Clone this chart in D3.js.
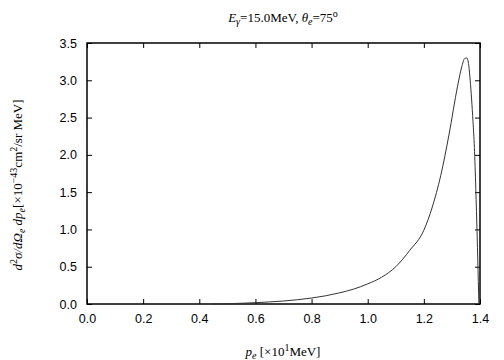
<!DOCTYPE html>
<html><head><meta charset="utf-8">
<script src="https://cdn.jsdelivr.net/npm/d3@7"></script>
<style>body{margin:0;background:#fff}svg{display:block}</style>
</head><body>
<script>
const pe = [0.45,0.5,0.55,0.6,0.65,0.7,0.75,0.8,0.85,0.9,0.95,1.0,1.05,1.1,1.15,1.2,1.23,1.26,1.29,1.32,1.335,1.345,1.353,1.36,1.365,1.37,1.375,1.38,1.385,1.39,1.394,1.396];
const xs = [0,0.004,0.01,0.018,0.028,0.04,0.057,0.08,0.11,0.15,0.2,0.27,0.36,0.5,0.72,0.99,1.3,1.72,2.28,2.92,3.18,3.29,3.3,3.2,3.0,2.75,2.45,2.1,1.55,0.9,0.3,0];
const xTicks = [0,0.2,0.4,0.6,0.8,1.0,1.2,1.4];
const yTicks = [0,0.5,1.0,1.5,2.0,2.5,3.0,3.5];

const W=504,H=360, L=87,R=480,T=43,B=304;
const svg=d3.select("body").append("svg").attr("width",W).attr("height",H);
const x=d3.scaleLinear().domain([0,1.4]).range([L,R]);
const y=d3.scaleLinear().domain([0,3.5]).range([B,T]);

const tickFont="Liberation Sans, Arial, sans-serif";
const axB=svg.append("g").attr("transform",`translate(0,${B})`)
 .call(d3.axisBottom(x).tickValues(xTicks).tickFormat(d3.format(".1f")).tickSizeInner(-5).tickSizeOuter(0).tickPadding(10));
const axT=svg.append("g").attr("transform",`translate(0,${T})`)
 .call(d3.axisTop(x).tickValues(xTicks).tickFormat("").tickSizeInner(-5).tickSizeOuter(0));
const axL=svg.append("g").attr("transform",`translate(${L},0)`)
 .call(d3.axisLeft(y).tickValues(yTicks).tickFormat(d3.format(".1f")).tickSizeInner(-5).tickSizeOuter(0).tickPadding(10));
const axR=svg.append("g").attr("transform",`translate(${R},0)`)
 .call(d3.axisRight(y).tickValues(yTicks).tickFormat("").tickSizeInner(-5).tickSizeOuter(0));
[axB,axT,axL,axR].forEach(a=>{a.select(".domain").remove();a.selectAll("line").attr("stroke","#000");
 a.selectAll("text").attr("font-family",tickFont).attr("font-size",12.5).attr("fill","#000");});

svg.append("rect").attr("x",L).attr("y",T).attr("width",R-L).attr("height",B-T)
 .attr("fill","none").attr("stroke","#000").attr("stroke-width",1.5);

const line=d3.line().x((d,i)=>x(pe[i])).y((d,i)=>y(xs[i])).curve(d3.curveMonotoneX);
svg.append("path").datum(xs).attr("d",line).attr("fill","none").attr("stroke","#333").attr("stroke-width",1);

const serif="Liberation Serif, Times New Roman, serif";
const t=svg.append("text").attr("x",283).attr("y",22).attr("text-anchor","middle")
 .attr("font-family",serif).attr("font-size",13);
t.append("tspan").attr("font-style","italic").text("E");
t.append("tspan").attr("font-style","italic").attr("font-size",10).attr("dy",3).text("γ");
t.append("tspan").attr("dy",-3).text("=15.0MeV,  ");
t.append("tspan").attr("font-style","italic").text("θ");
t.append("tspan").attr("font-style","italic").attr("font-size",10).attr("dy",3).text("e");
t.append("tspan").attr("dy",-3).text("=75");
t.append("tspan").attr("font-size",10).attr("dy",-5).text("o");

const xl=svg.append("text").attr("x",283).attr("y",356).attr("text-anchor","middle")
 .attr("font-family",serif).attr("font-size",13);
xl.append("tspan").attr("font-style","italic").text("p");
xl.append("tspan").attr("font-style","italic").attr("font-size",10).attr("dy",3).text("e");
xl.append("tspan").attr("dy",-3).text(" [×10");
xl.append("tspan").attr("font-size",10).attr("dy",-5).text("1");
xl.append("tspan").attr("dy",5).text("MeV]");

const yl=svg.append("text").attr("transform","translate(22,185) rotate(-90)").attr("text-anchor","middle")
 .attr("font-family",serif).attr("font-size",13);
yl.append("tspan").attr("font-style","italic").text("d");
yl.append("tspan").attr("font-size",10).attr("dy",-5).text("2");
yl.append("tspan").attr("font-style","italic").attr("dy",5).text("σ/dΩ");
yl.append("tspan").attr("font-style","italic").attr("font-size",10).attr("dy",3).text("e");
yl.append("tspan").attr("font-style","italic").attr("dy",-3).text(" dp");
yl.append("tspan").attr("font-style","italic").attr("font-size",10).attr("dy",3).text("e");
yl.append("tspan").attr("dy",-3).text("[×10");
yl.append("tspan").attr("font-size",10).attr("dy",-5).text("−43");
yl.append("tspan").attr("dy",5).text("cm");
yl.append("tspan").attr("font-size",10).attr("dy",-5).text("2");
yl.append("tspan").attr("dy",5).text("/sr MeV]");
</script>
</body></html>
